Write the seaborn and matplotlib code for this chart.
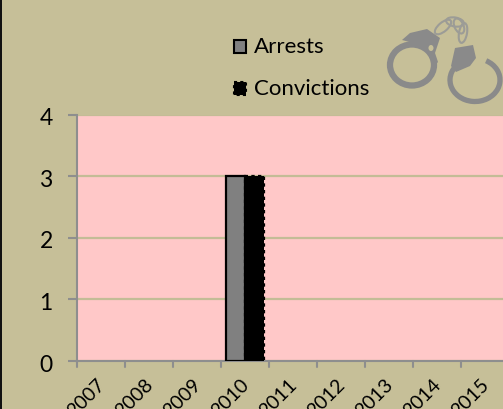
import pandas as pd
import seaborn as sns
import matplotlib
matplotlib.use("Agg")
import matplotlib.pyplot as plt
from matplotlib.patches import Arc, Ellipse, Polygon, Rectangle
from matplotlib.transforms import ScaledTranslation

years = ['2007', '2008', '2009', '2010', '2011', '2012', '2013', '2014', '2015']
arrests = [0, 0, 0, 3, 0, 0, 0, 0, 0]
convictions = [0, 0, 0, 3, 0, 0, 0, 0, 0]

bg = '#c6bf98'
pink = '#ffc8c8'
axis_gray = '#8e8e8e'
cuff_gray = '#8a8a8a'

df = pd.DataFrame({
    'Year': years * 2,
    'Count': arrests + convictions,
    'Kind': ['Arrests'] * len(years) + ['Convictions'] * len(years),
})

sns.set_theme(style='white')
plt.rcParams['font.family'] = ['Lato', 'DejaVu Sans']

W, H = 503, 409
fig = plt.figure(figsize=(W / 100, H / 100), dpi=100, facecolor=bg)

# plot area runs off the right side of the picture, like the original
left, right, top, bottom = 77, 509, 114.5, 361
ax = fig.add_axes([left / W, 1 - bottom / H, (right - left) / W, (bottom - top) / H])
ax.set_facecolor(pink)

sns.barplot(data=df, x='Year', y='Count', hue='Kind', palette=['#808080', '#000000'],
            width=0.8, gap=0, saturation=1, ax=ax, legend=False, zorder=3)

# only real bars get an outline
n = len(years)
for i, p in enumerate(ax.patches[:2 * n]):
    if p.get_height() == 0:
        p.set_linewidth(0)
    else:
        p.set_edgecolor('black')
        p.set_linewidth(1.6)
        if i >= n:
            p.set_linestyle((0, (1.5, 1.5)))

ax.set_xlim(-0.5, 8.5)
ax.set_ylim(0, 4)
ax.set_yticks([0, 1, 2, 3, 4])
ax.set_xticks(range(n))
ax.set_xlabel('')
ax.set_ylabel('')
ax.yaxis.grid(True, color='#c3bc96', linewidth=1.6, zorder=1)
ax.xaxis.grid(False)
ax.set_axisbelow(True)

for s in ['top', 'right']:
    ax.spines[s].set_visible(False)
for s in ['left', 'bottom']:
    ax.spines[s].set_color(axis_gray)
    ax.spines[s].set_linewidth(1.5)

ax.tick_params(axis='y', left=True, length=6.5, width=1.5, color=axis_gray,
               labelsize=16.5, labelcolor='black', pad=11)
ax.tick_params(axis='x', bottom=False, labelbottom=False)

# digits sit a touch under their ticks in the original
nudge = ScaledTranslation(0, -1.5 / 72, fig.dpi_scale_trans)
for lab in ax.get_yticklabels():
    lab.set_transform(lab.get_transform() + nudge)

# x ticks sit between the categories, labels are rotated and cut by the bottom edge
for k in range(n + 1):
    ax.plot([k - 0.5, k - 0.5], [0, -0.1], color=axis_gray, lw=1.5, clip_on=False, zorder=4)
for k, y in enumerate(years):
    ax.annotate(y, xy=(k - 0.5, 0), xycoords='data', xytext=(14, -11), textcoords='offset points',
                rotation=45, ha='right', va='top', rotation_mode='anchor',
                fontsize=14, color='black', annotation_clip=False)

# overlay in pixel coordinates for legend, handcuffs and border
ov = fig.add_axes([0, 0, 1, 1], facecolor='none')
ov.set_xlim(0, W)
ov.set_ylim(H, 0)
ov.axis('off')

ov.add_patch(Rectangle((0, 0), 2.2, H, color='#111111', lw=0))

ov.add_patch(Rectangle((234, 39.5), 12, 13.5, facecolor='#808080', edgecolor='black', lw=1.5))
ov.add_patch(Rectangle((234, 81.5), 12, 13.5, facecolor='black', edgecolor='black', lw=1.5,
                       linestyle=(0, (1.5, 1.5))))
ov.text(254, 47, 'Arrests', fontsize=16, va='center', ha='left', color='black')
ov.text(254, 89, 'Convictions', fontsize=16, va='center', ha='left', color='black')

# handcuffs
ov.add_patch(Ellipse((412, 65), 44, 41, facecolor='none', edgecolor=cuff_gray, lw=4.5))
ov.add_patch(Polygon([(402, 40), (410, 33), (427, 29), (440, 38), (435, 53), (438, 62),
                      (433, 68), (428, 50), (413, 43)], closed=True, color=cuff_gray, lw=0))
ov.add_patch(Ellipse((431, 48), 5, 6, color=bg, lw=0))
ov.add_patch(Arc((475, 80), 50, 43, angle=0, theta1=-60, theta2=215, color=cuff_gray, lw=3.8))
ov.add_patch(Polygon([(455, 48), (473, 45), (476, 58), (470, 66), (456, 72), (451, 66)],
                     closed=True, color=cuff_gray, lw=0))
for cx, cy, w, h, a in [(443, 27, 20, 9, -40), (455, 22, 18, 9, 10), (463, 33, 8, 20, 10), (459, 26, 9, 16, -25)]:
    ov.add_patch(Ellipse((cx, cy), w, h, angle=a, facecolor='none', edgecolor='#9c9c96', lw=1.5))

fig.savefig('out.png', dpi=100, facecolor=bg)
